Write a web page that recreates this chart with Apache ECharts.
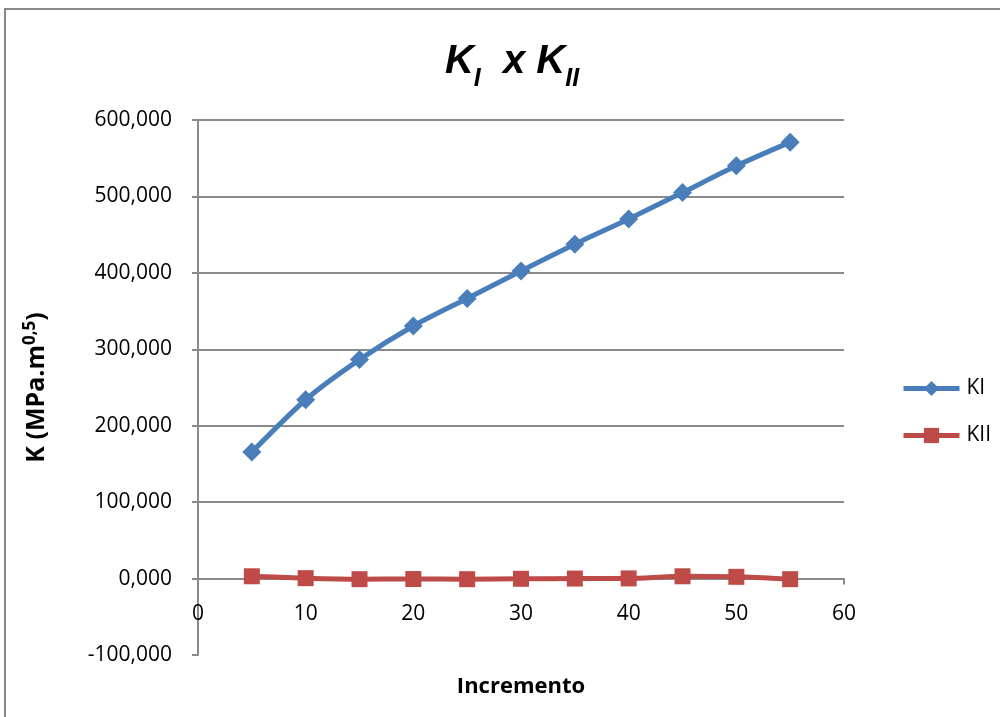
<!DOCTYPE html>
<html>
<head>
<meta charset="utf-8">
<script src="https://cdn.jsdelivr.net/npm/echarts@6/dist/echarts.min.js"></script>
<style>
  html, body { margin: 0; padding: 0; background: #ffffff; }
  #chart { width: 1000px; height: 717px; }
</style>
</head>
<body>
<div id="chart"></div>
<script>
// Load increments (x) and stress intensity factors
const increments = [5, 10, 15, 20, 25, 30, 35, 40, 45, 50, 55];
const kI  = [165.5, 234, 286.5, 330.5, 366.5, 402.5, 437.5, 470.5, 505, 540, 571];
const kII = [3, 0.5, -0.8, -0.6, -0.8, -0.3, 0, 0.2, 3, 2.3, -0.8];
const seriesNames = ['KI', 'KII'];
const yTicks = [-100, 0, 100, 200, 300, 400, 500, 600];
const xTicks = [0, 10, 20, 30, 40, 50, 60];

const FONT = '"Open Sans", "Noto Sans", sans-serif';
const GRID_GRAY = '#8a8a8a';

function pairs(xs, ys) { return xs.map((x, i) => [x, ys[i]]); }
function fmtY(v) { return v.toFixed(3).replace('.', ','); }

const chart = echarts.init(document.getElementById('chart'), null, { renderer: 'canvas' });

chart.setOption({
  backgroundColor: '#ffffff',
  animation: false,
  graphic: [
    {
      type: 'rect',
      shape: { x: 5, y: 9, width: 1010, height: 730 },
      style: { fill: 'none', stroke: '#878787', lineWidth: 2 },
      silent: true
    }
  ],
  title: {
    left: 507,
    top: 29,
    textAlign: 'center',
    text: '{k|K}{s|I}{k|  x K}{s|II}',
    textStyle: {
      rich: {
        k: { fontFamily: '"Liberation Sans", Arial, sans-serif', fontSize: 40, fontWeight: 'bold', fontStyle: 'italic', color: '#000', verticalAlign: 'bottom', lineHeight: 48 },
        s: { fontFamily: '"Liberation Sans", Arial, sans-serif', fontSize: 25, fontWeight: 'bold', fontStyle: 'italic', color: '#000', verticalAlign: 'bottom', lineHeight: 48, padding: [0, 0, -10, 0] }
      }
    }
  },
  legend: {
    orient: 'vertical',
    left: 896,
    top: 373,
    itemWidth: 56,
    itemHeight: 19,
    itemGap: 26,
    data: seriesNames,
    lineStyle: { width: 5 },
    textStyle: { fontFamily: FONT, fontSize: 21, color: '#000', padding: [0, 0, 0, 2] }
  },
  grid: { left: 198, right: 156, top: 120, bottom: 62, containLabel: false, outerBoundsMode: 'none' },
  xAxis: {
    type: 'value',
    min: 0,
    max: 60,
    interval: 10,
    position: 'bottom',
    offset: 0,
    name: 'Incremento',
    nameLocation: 'middle',
    nameGap: 97,
    nameTextStyle: { fontFamily: FONT, fontSize: 22, fontWeight: 'bold', color: '#000' },
    axisLine: { onZero: false, lineStyle: { color: GRID_GRAY, width: 2 } },
    axisTick: { show: true, length: 6, lineStyle: { color: GRID_GRAY, width: 2 } },
    axisLabel: {
      fontFamily: FONT, fontSize: 21, color: '#000', margin: 25,
      formatter: v => xTicks.includes(v) ? String(v) : ''
    },
    splitLine: { show: false }
  },
  yAxis: {
    type: 'value',
    min: -100,
    max: 600,
    interval: 100,
    name: 'K (MPa.m{sup|0,5})',
    nameLocation: 'middle',
    nameRotate: 90,
    nameGap: 146,
    nameTextStyle: {
      fontFamily: FONT, fontSize: 25, fontWeight: 'bold', color: '#000',
      padding: [0, 0, 0, 0],
      rich: {
        sup: { fontFamily: FONT, fontSize: 17, fontWeight: 'bold', color: '#000', verticalAlign: 'top', padding: [0, 0, 13, 0] }
      }
    },
    axisLine: { show: true, onZero: false, lineStyle: { color: GRID_GRAY, width: 2 } },
    axisTick: { show: true, inside: false, length: 6, lineStyle: { color: GRID_GRAY, width: 2 } },
    axisLabel: {
      fontFamily: FONT, fontSize: 21, color: '#000', margin: 26,
      formatter: v => yTicks.includes(v) ? fmtY(v) : ''
    },
    splitLine: { show: true, showMinLine: false, lineStyle: { color: GRID_GRAY, width: 2 } }
  },
  series: [
    {
      name: seriesNames[0],
      type: 'line',
      data: pairs(increments, kI),
      smooth: 0.25,
      symbol: 'diamond',
      symbolSize: 19,
      color: '#4a7ebb',
      lineStyle: { width: 5, color: '#4a7ebb' },
      itemStyle: { color: '#4a7ebb' },
      z: 3
    },
    {
      name: seriesNames[1],
      type: 'line',
      data: pairs(increments, kII),
      smooth: 0.25,
      symbol: 'rect',
      symbolSize: 16,
      color: '#be4b48',
      lineStyle: { width: 5, color: '#be4b48' },
      itemStyle: { color: '#be4b48' },
      z: 3
    }
  ]
});

// The horizontal axis crosses the vertical one at zero: lift it (with its
// ticks and labels) from the bottom edge of the grid up to the y = 0 line.
const yZero = chart.convertToPixel({ yAxisIndex: 0 }, 0);
const yBottom = chart.convertToPixel({ yAxisIndex: 0 }, -100);
chart.setOption({ xAxis: { offset: -(yBottom - yZero) } });
</script>
</body>
</html>
